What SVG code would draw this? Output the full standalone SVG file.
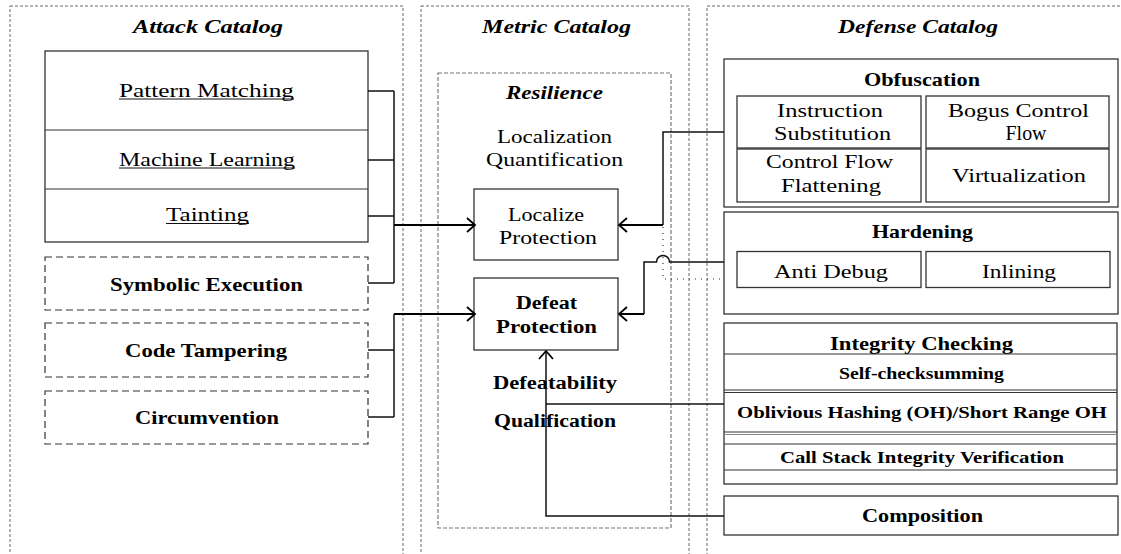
<svg xmlns="http://www.w3.org/2000/svg" width="1121" height="554" viewBox="0 0 1121 554">
  <defs>
    <style>
      .outer { fill: none; stroke: #666; stroke-width: 1; stroke-dasharray: 3 2; }
      .res { fill: none; stroke: #777; stroke-width: 1.2; stroke-dasharray: 4 2; }
      .box { fill: #fff; stroke: #333; stroke-width: 1.3; }
      .dbox { fill: #fff; stroke: #333; stroke-width: 1.2; stroke-dasharray: 7 4; }
      .sep { stroke: #333; stroke-width: 1.2; }
      .wire { fill: none; stroke: #111; stroke-width: 1.5; }
      .arrow { fill: none; stroke: #000; stroke-width: 2; }
      .dot { fill: none; stroke: #333; stroke-width: 1.2; stroke-dasharray: 1 5; }
      .uline { stroke: #111; stroke-width: 1; }
      text { font-family: "Liberation Serif", "Times New Roman", serif; fill: #000; text-anchor: middle; }
      .title { font-size: 19px; font-weight: bold; font-style: italic; }
      .lab { font-size: 19px; }
      .labb { font-size: 19px; font-weight: bold; }
      .m { font-size: 18px; }
      .mb { font-size: 18px; font-weight: bold; }
      .d { font-size: 18px; }
      .head { font-size: 19px; font-weight: bold; }
      .sm { font-size: 17px; font-weight: bold; }
    </style>
    <marker id="open" viewBox="-10 -9 12 18" refX="0" refY="0" markerWidth="12" markerHeight="18" markerUnits="userSpaceOnUse" orient="auto">
      <path d="M-8,-7 L0,0 L-8,7" fill="none" stroke="#000" stroke-width="1.8"/>
    </marker>
  </defs>

  <!-- catalog frames -->
  <g id="frames">
    <rect class="outer" x="10" y="6" width="393" height="560"/>
    <rect class="outer" x="421" y="6" width="268" height="560"/>
    <rect class="outer" x="707" y="6" width="420" height="560"/>
    <text class="title" x="208" y="33" textLength="150" lengthAdjust="spacingAndGlyphs">Attack Catalog</text>
    <text class="title" x="556.5" y="33" textLength="149" lengthAdjust="spacingAndGlyphs">Metric Catalog</text>
    <text class="title" x="918" y="33" textLength="160" lengthAdjust="spacingAndGlyphs">Defense Catalog</text>
  </g>

  <!-- attacks -->
  <g id="attack-analysis">
    <rect class="box" x="45" y="51" width="323" height="191"/>
    <line class="sep" x1="45" y1="130" x2="368" y2="130"/>
    <line class="sep" x1="45" y1="189" x2="368" y2="189"/>
  </g>
  <g id="pattern-matching">
    <text class="lab" x="206.5" y="96.5" textLength="175" lengthAdjust="spacingAndGlyphs">Pattern Matching</text>
    <line class="uline" x1="119" y1="99" x2="294" y2="99"/>
  </g>
  <g id="machine-learning">
    <text class="lab" x="207" y="165.5" textLength="176" lengthAdjust="spacingAndGlyphs">Machine Learning</text>
    <line class="uline" x1="119" y1="168" x2="295" y2="168"/>
  </g>
  <g id="tainting">
    <text class="lab" x="207.5" y="221" textLength="83" lengthAdjust="spacingAndGlyphs">Tainting</text>
    <line class="uline" x1="166" y1="223.5" x2="249" y2="223.5"/>
  </g>
  <g id="symbolic-execution">
    <rect class="dbox" x="45" y="257" width="323" height="53"/>
    <text class="labb" x="206.5" y="290.5" textLength="193" lengthAdjust="spacingAndGlyphs">Symbolic Execution</text>
  </g>
  <g id="code-tampering">
    <rect class="dbox" x="45" y="323" width="323" height="54"/>
    <text class="labb" x="206" y="357" textLength="162" lengthAdjust="spacingAndGlyphs">Code Tampering</text>
  </g>
  <g id="circumvention">
    <rect class="dbox" x="45" y="391" width="323" height="53"/>
    <text class="labb" x="207" y="424" textLength="144" lengthAdjust="spacingAndGlyphs">Circumvention</text>
  </g>

  <!-- metrics -->
  <g id="resilience">
    <rect class="res" x="438" y="73" width="233" height="455"/>
    <text class="title" x="554.5" y="99.3" style="font-size:18px" textLength="97" lengthAdjust="spacingAndGlyphs">Resilience</text>
    <text class="m" x="554.5" y="143" textLength="115" lengthAdjust="spacingAndGlyphs">Localization</text>
    <text class="m" x="554.5" y="166.3" textLength="137" lengthAdjust="spacingAndGlyphs">Quantification</text>
    <text class="mb" x="555" y="389" textLength="124" lengthAdjust="spacingAndGlyphs">Defeatability</text>
    <text class="mb" x="555" y="427" textLength="122" lengthAdjust="spacingAndGlyphs">Qualification</text>
  </g>
  <g id="localize-protection">
    <rect class="box" x="474" y="189" width="144" height="71"/>
    <text class="m" x="546" y="221" textLength="76" lengthAdjust="spacingAndGlyphs">Localize</text>
    <text class="m" x="548" y="244" textLength="98" lengthAdjust="spacingAndGlyphs">Protection</text>
  </g>
  <g id="defeat-protection">
    <rect class="box" x="474" y="278" width="144" height="72"/>
    <text class="mb" x="546.5" y="309" textLength="61" lengthAdjust="spacingAndGlyphs">Defeat</text>
    <text class="mb" x="546.5" y="333.3" textLength="101" lengthAdjust="spacingAndGlyphs">Protection</text>
  </g>

  <!-- defenses -->
  <g id="obfuscation">
    <rect class="box" x="724" y="59" width="394" height="148"/>
    <text class="head" x="922" y="86" textLength="116" lengthAdjust="spacingAndGlyphs">Obfuscation</text>
    <rect class="box" x="737" y="96" width="184" height="52"/>
    <rect class="box" x="926" y="96" width="183" height="52"/>
    <rect class="box" x="737" y="149" width="184" height="53"/>
    <rect class="box" x="926" y="149" width="183" height="53"/>
    <text class="d" x="830" y="116.7" textLength="106" lengthAdjust="spacingAndGlyphs">Instruction</text>
    <text class="d" x="832.5" y="140" textLength="117" lengthAdjust="spacingAndGlyphs">Substitution</text>
    <text class="d" x="1018.5" y="117" textLength="141" lengthAdjust="spacingAndGlyphs">Bogus Control</text>
    <text x="1026" y="140" style="font-size:20px" textLength="41" lengthAdjust="spacingAndGlyphs">Flow</text>
    <text class="d" x="829.5" y="168" textLength="127" lengthAdjust="spacingAndGlyphs">Control Flow</text>
    <text class="d" x="831" y="191.7" textLength="100" lengthAdjust="spacingAndGlyphs">Flattening</text>
    <text class="d" x="1019" y="182" textLength="134" lengthAdjust="spacingAndGlyphs">Virtualization</text>
  </g>
  <g id="hardening">
    <rect class="box" x="724" y="212" width="394" height="102"/>
    <text class="head" x="922.5" y="238.3" textLength="101" lengthAdjust="spacingAndGlyphs">Hardening</text>
    <rect class="box" x="737" y="251.5" width="184" height="36"/>
    <rect class="box" x="926" y="251.5" width="184" height="36"/>
    <text class="d" x="831" y="277.7" textLength="114" lengthAdjust="spacingAndGlyphs">Anti Debug</text>
    <text class="d" x="1019" y="277.7" textLength="74" lengthAdjust="spacingAndGlyphs">Inlining</text>
  </g>
  <g id="integrity-checking">
    <rect class="box" x="724" y="323" width="393" height="161"/>
    <text class="head" x="921.5" y="350" textLength="183" lengthAdjust="spacingAndGlyphs">Integrity Checking</text>
    <line class="sep" x1="724" y1="354" x2="1117" y2="354"/>
    <line class="sep" x1="724" y1="390" x2="1117" y2="390"/>
    <line class="sep" x1="724" y1="392.5" x2="1117" y2="392.5"/>
    <line class="sep" x1="724" y1="432" x2="1117" y2="432"/>
    <line class="sep" x1="724" y1="434.5" x2="1117" y2="434.5" style="stroke:#888"/>
    <line class="sep" x1="724" y1="444" x2="1117" y2="444"/>
    <line class="sep" x1="724" y1="470" x2="1117" y2="470"/>
    <text class="sm" x="921.5" y="379.3" textLength="165" lengthAdjust="spacingAndGlyphs">Self-checksumming</text>
    <text class="sm" x="922" y="418.3" textLength="370" lengthAdjust="spacingAndGlyphs">Oblivious Hashing (OH)/Short Range OH</text>
    <text class="sm" x="922" y="463.3" textLength="284" lengthAdjust="spacingAndGlyphs">Call Stack Integrity Verification</text>
  </g>
  <g id="composition">
    <rect class="box" x="724" y="496" width="394" height="39"/>
    <text class="head" x="922.5" y="522" textLength="121" lengthAdjust="spacingAndGlyphs">Composition</text>
  </g>

  <!-- connectors -->
  <g id="connectors">
    <!-- localization attacks -->
    <path class="wire" d="M368,91 H394 M368,160 H394 M368,216 H394 M368,283 H394 M394,91 V283"/>
    <path class="arrow" d="M394,225 H475" marker-end="url(#open)"/>
    <!-- defeat attacks -->
    <path class="wire" d="M368,350 H394 M368,417 H394 M394,314 V417"/>
    <path class="arrow" d="M394,314 H475" marker-end="url(#open)"/>
    <!-- obfuscation to localize -->
    <path class="wire" d="M724,132 H663 V225"/>
    <path class="arrow" d="M663,225 H619" marker-end="url(#open)"/>
    <!-- hardening dotted branch -->
    <path class="dot" d="M663,227 V279 H724"/>
    <!-- hardening to defeat, hopping over the dotted line -->
    <path class="wire" d="M724,262 H669.5 A6.5,6.5 0 0 0 656.5,262 H644 V314"/>
    <path class="arrow" d="M644,314 H619" marker-end="url(#open)"/>
    <!-- integrity checking and composition to defeat -->
    <path class="wire" d="M724,404 H546"/>
    <path class="wire" d="M724,516 H546 V351" marker-end="url(#open)"/>
  </g>
</svg>
